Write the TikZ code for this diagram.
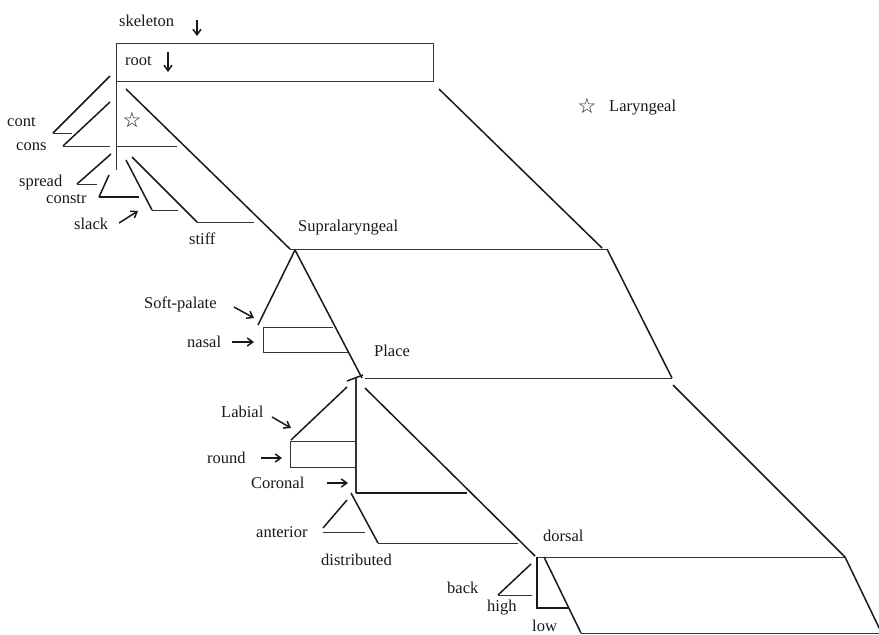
\documentclass[tikz,border=0pt]{standalone}
\usepackage{fontspec}
\setmainfont{Liberation Serif}
\newfontfamily\symfont{DejaVu Sans}
\usetikzlibrary{arrows.meta}
\begin{document}
\begin{tikzpicture}[x=1pt,y=-1pt,
  thk/.style={line width=1.5pt,black!90},
  thn/.style={line width=0.9pt,black!80},
  lbl/.style={font=\fontsize{16.5}{19}\selectfont,inner sep=0pt,anchor=base west,text=black!90},
  arr/.style={line width=1.5pt,black!90,-{Straight Barb[length=5.5pt,width=8pt,line width=1.5pt]}},
  starsym/.style={font=\symfont\fontsize{21}{22}\selectfont,inner sep=0pt,text=black!90}]
\useasboundingbox (0,0) rectangle (879,635);
\clip (0,0) rectangle (879,635);
% key points
\coordinate (supra) at (295,250);
\coordinate (place) at (360,377);
\coordinate (dors) at (537,557);
% labels
\node[lbl] (skel) at (119,26) {skeleton};
\node[lbl] (root) at (125,65) {root};
\node[lbl] (cont) at (7,126) {cont};
\node[lbl] (cons) at (16,150) {cons};
\node[lbl] (spread) at (19,186) {spread};
\node[lbl] (constr) at (46,203) {constr};
\node[lbl] (slack) at (74,229) {slack};
\node[lbl] (stiff) at (189,244) {stiff};
\node[lbl] (suplab) at (298,231) {Supralaryngeal};
\node[lbl] (laryn) at (609,111) {Laryngeal};
\node[starsym] (lstar) at (587,106) {☆};
\node[starsym] (tstar) at (132,120) {☆};
\node[lbl] (soft) at (144,308) {Soft-palate};
\node[lbl] (nasal) at (187,347) {nasal};
\node[lbl] (plab) at (374,356) {Place};
\node[lbl] (labial) at (221,417) {Labial};
\node[lbl] (round) at (207,463) {round};
\node[lbl] (coronal) at (251,488) {Coronal};
\node[lbl] (anterior) at (256,537) {anterior};
\node[lbl] (distr) at (321,565) {distributed};
\node[lbl] (dorsal) at (543,541) {dorsal};
\node[lbl] (back) at (447,593) {back};
\node[lbl] (high) at (487,611) {high};
\node[lbl] (low) at (532,631) {low};
% arrows
\draw[arr] (197,20) -- (197,36);
\draw[arr] (168,52) -- (168,72);
\draw[arr] (119,223) -- (138,211);
\draw[arr] (234,307) -- (254,318);
\draw[arr] (232,342) -- (254,342);
\draw[arr] (272,417) -- (291,428);
\draw[arr] (261,458) -- (282,458);
\draw[arr] (327,483) -- (348,483);
% root box and laryngeal spine
\draw[thn] (116,43) rectangle (433,81);
\draw[thn] (116,81) -- (116,170);
\draw[thk] (126,89) -- (290,249);
\draw[thk] (439,89) -- (602,248);
% cont, cons
\draw[thk] (110,76) -- (53,133);
\draw[thn] (53,133) -- (72,133);
\draw[thk] (110,102) -- (63,146);
\draw[thn] (63,146) -- (110,146);
\draw[thn] (116,146) -- (177,146);
% spread, constr, slack, stiff
\draw[thk] (111,154) -- (77,184);
\draw[thn] (77,184) -- (97,184);
\draw[thk] (109,175) -- (99,197);
\draw[thk] (99,197) -- (139,197);
\draw[thk] (126,160) -- (152,210);
\draw[thn] (152,210) -- (178,210);
\draw[thk] (132,157) -- (197,222);
\draw[thn] (197,222) -- (254,222);
% supralaryngeal plane
\draw[thn] (290,249) -- (607,249);
\draw[thk] (607,249) -- (672,378);
\draw[thn] (365,378) -- (672,378);
\draw[thk] (673,385) -- (845,557);
% soft palate, nasal
\draw[thk] (supra) -- (258,325);
\draw[thk] (supra) -- (362,378);
\draw[thn] (333,327) -- (263,327) -- (263,352) -- (348,352);
% place
\draw[thk] (347,381) -- (363,375);
\draw[thn,line width=1.1pt] (356,378) -- (356,493);
\draw[thk] (356,493) -- (467,493);
\draw[thk] (347,387) -- (291,440);
\draw[thn] (356,441) -- (290,441) -- (290,467) -- (356,467);
\draw[thk] (365,388) -- (535,556);
% coronal dependents
\draw[thk] (347,500) -- (323,528);
\draw[thn] (323,532) -- (365,532);
\draw[thk] (351,493) -- (378,543);
\draw[thn] (378,543) -- (518,543);
% dorsal
\draw[thn] (dors) -- (845,557);
\draw[thk] (845,557) -- (883,636);
\draw[thn] (581,633) -- (879,633);
\draw[thk] (544,557) -- (581,633);
\draw[thk] (dors) -- (537,608) -- (568,608);
\draw[thk] (531,564) -- (498,595);
\draw[thn] (498,595) -- (532,595);
\end{tikzpicture}
\end{document}
